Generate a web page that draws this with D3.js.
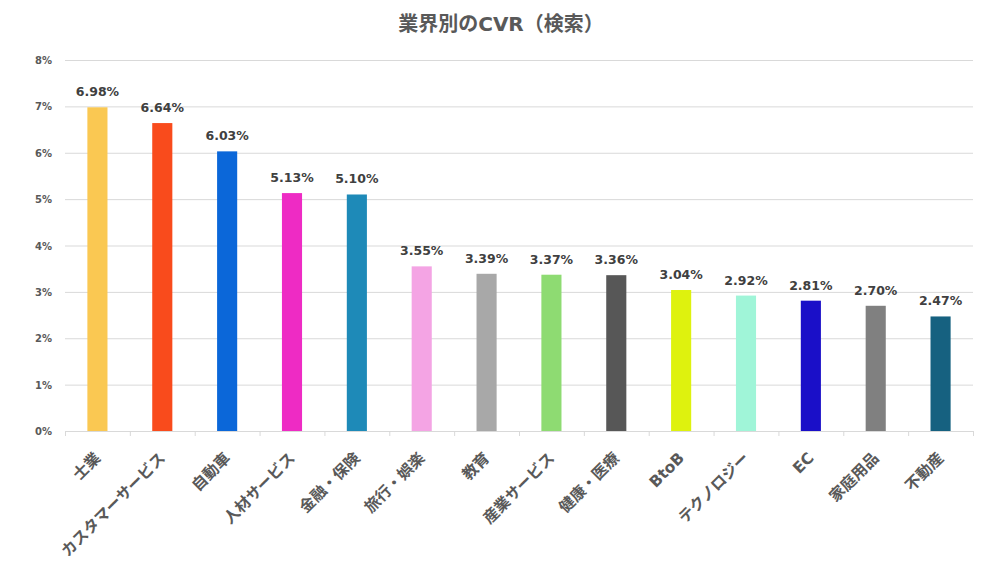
<!DOCTYPE html>
<html><head><meta charset="utf-8">
<script src="https://cdn.jsdelivr.net/npm/d3@7"></script>
<style>
body{margin:0;background:#fff;}
text{font-family:"DejaVu Sans","Noto Sans CJK JP",sans-serif;}
</style></head>
<body><svg id="c" width="1000" height="563"></svg>
<script>
const categories = ["士業","カスタマーサービス","自動車","人材サービス","金融・保険","旅行・娯楽","教育","産業サービス","健康・医療","BtoB","テクノロジー","EC","家庭用品","不動産"];
const values = [6.98,6.64,6.03,5.13,5.10,3.55,3.39,3.37,3.36,3.04,2.92,2.81,2.70,2.47];
const colors = ["#FAC852","#F94B1C","#0B67D9","#EE2BC4","#1E8AB8","#F4A4E4","#A8A8A8","#8EDB72","#575757","#DEF20E","#A0F5D8","#1A0FC8","#808080","#166180"];
const yTicks = [0,1,2,3,4,5,6,7,8];
const title = "業界別のCVR（検索）";

(function(){
const svg = d3.select("#c");
const pLeft = 65, pRight = 973, pTop = 60, pBottom = 431;
const x = d3.scaleBand().domain(categories).range([pLeft, pRight]).paddingInner(0.69).paddingOuter(0.345);
const y = d3.scaleLinear().domain([0, 8]).range([pBottom, pTop]);

svg.append("text").attr("x", 501).attr("y", 31).attr("text-anchor", "middle")
  .attr("font-size", 20).attr("font-weight", "bold").attr("fill", "#595959").text(title);

svg.append("g").selectAll("line").data(yTicks.filter(d => d > 0)).join("line")
  .attr("x1", pLeft).attr("x2", pRight).attr("y1", d => y(d) + 0.5).attr("y2", d => y(d) + 0.5)
  .attr("stroke", "#d9d9d9").attr("stroke-width", 1);

svg.append("g").selectAll("text").data(yTicks).join("text")
  .attr("x", 52).attr("y", d => y(d) + 4).attr("text-anchor", "end")
  .attr("font-size", 10).attr("font-weight", "bold").attr("fill", "#595959")
  .text(d => d + "%");

svg.append("g").selectAll("rect").data(categories).join("rect")
  .attr("x", d => x(d)).attr("width", x.bandwidth())
  .attr("y", (d, i) => y(values[i])).attr("height", (d, i) => pBottom - y(values[i]))
  .attr("fill", (d, i) => colors[i]);

svg.append("g").selectAll("text").data(categories).join("text")
  .attr("x", d => x(d) + x.bandwidth() / 2).attr("y", (d, i) => y(values[i]) - 11)
  .attr("text-anchor", "middle").attr("font-size", 12.5).attr("font-weight", "bold").attr("fill", "#404040")
  .text((d, i) => values[i].toFixed(2) + "%");

const step = x.step();
const ax = svg.append("g");
ax.append("line").attr("x1", pLeft).attr("x2", pRight).attr("y1", pBottom + 0.5).attr("y2", pBottom + 0.5)
  .attr("stroke", "#d9d9d9");
const tickXs = d3.range(categories.length + 1).map(i => pLeft + i * step);
ax.selectAll("line.t").data(tickXs).join("line").attr("class", "t")
  .attr("x1", d => d + 0.5).attr("x2", d => d + 0.5).attr("y1", pBottom).attr("y2", pBottom + 5)
  .attr("stroke", "#d9d9d9");

ax.selectAll("text").data(categories).join("text")
  .attr("transform", d => `translate(${x(d) + x.bandwidth() / 2 + 4},${pBottom + 28}) rotate(-45)`)
  .attr("text-anchor", "end").attr("font-size", 15.5).attr("font-weight", "bold").attr("fill", "#595959")
  .text(d => d);
})();
</script></body></html>
